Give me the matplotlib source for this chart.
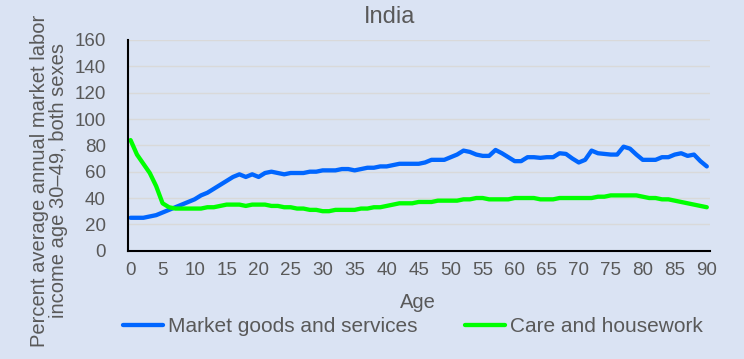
import matplotlib
matplotlib.use("Agg")
import matplotlib.pyplot as plt
import numpy as np

ages = list(range(0, 91))
market = [25, 25, 25, 26, 27, 29, 31, 33, 35, 37,
          39, 42, 44, 47, 50, 53, 56, 58, 56, 58,
          56, 59, 60, 59, 58, 59, 59, 59, 60, 60,
          61, 61, 61, 62, 62, 61, 62, 63, 63, 64,
          64, 65, 66, 66, 66, 66, 67, 69, 69, 69,
          71, 73, 76, 75, 73, 72, 72, 76.5, 74, 71,
          68, 68, 71, 71, 70.5, 71, 71, 74, 73.5, 70,
          67, 69, 76, 74, 73.5, 73, 73, 79, 77.5, 73,
          69, 69, 69, 71, 71, 73, 74, 72, 73, 68,
          64]
care = [84, 73, 66, 59, 49, 36, 33, 32, 32, 32,
        32, 32, 33, 33, 34, 35, 35, 35, 34, 35,
        35, 35, 34, 34, 33, 33, 32, 32, 31, 31,
        30, 30, 31, 31, 31, 31, 32, 32, 33, 33,
        34, 35, 36, 36, 36, 37, 37, 37, 38, 38,
        38, 38, 39, 39, 40, 40, 39, 39, 39, 39,
        40, 40, 40, 40, 39, 39, 39, 40, 40, 40,
        40, 40, 40, 41, 41, 42, 42, 42, 42, 42,
        41, 40, 40, 39, 39, 38, 37, 36, 35, 34,
        33]
xticks = list(range(0, 91, 5))
yticks = list(range(0, 161, 20))

bg = "#dae3f3"
txt = "#595959"
plt.rcParams['font.family'] = ['Liberation Sans', 'DejaVu Sans']

fig = plt.figure(figsize=(7.44, 3.59), dpi=100, facecolor=bg)
ax = fig.add_axes([128/744, 1-250.7/359, (710-128)/744, (250.7-40)/359])
ax.set_facecolor(bg)

l1, = ax.plot(ages, market, color="#0066ff", lw=3.1, solid_capstyle='round', label="Market goods and services")
l2, = ax.plot(ages, care, color="#00ff00", lw=3.1, solid_capstyle='round', label="Care and housework")

ax.set_xlim(-0.4, 90.5)
ax.set_ylim(0, 160)
ax.set_xticks(xticks)
ax.set_yticks(yticks)
ax.tick_params(length=0, labelsize=13.5, colors=txt)
ax.tick_params(axis='y', pad=16)
ax.tick_params(axis='x', pad=8)
ax.grid(axis='y', color="#d9d9d9", lw=1)
ax.set_axisbelow(True)
for s in ['top', 'right']:
    ax.spines[s].set_visible(False)
for s in ['left', 'bottom']:
    ax.spines[s].set_color('black')
    ax.spines[s].set_linewidth(1.5)

fig.text(390/744, 1-17/359, "India", ha='center', va='center', fontsize=17, color=txt)
fig.text(418/744, 1-302/359, "Age", ha='center', va='center', fontsize=14.5, color=txt)
fig.text(49/744, 1-181/359, "Percent average annual market labor\nincome age 30\u201349, both sexes",
         rotation=90, ha='center', va='center', fontsize=14.5, color=txt, linespacing=1.05)

leg = fig.legend(handles=[l1, l2], loc='center', bbox_to_anchor=(413/744, 1-327/359), ncol=2,
                 frameon=False, fontsize=15, handlelength=1.9, handletextpad=0.25,
                 columnspacing=2.3, borderpad=0, borderaxespad=0)
for t in leg.get_texts():
    t.set_color(txt)

fig.savefig("out.png", dpi=100, facecolor=bg)
